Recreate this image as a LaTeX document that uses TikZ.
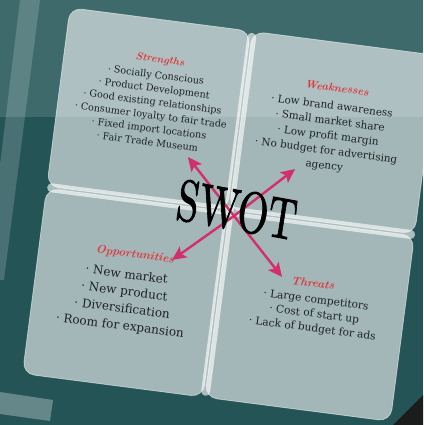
\documentclass[tikz,border=0pt]{standalone}
\usepackage{fontspec}
\newfontfamily\bodyfont{DejaVu Serif}
\newfontfamily\swotfont[FakeBold=1.6]{lmroman10-regular.otf}
\usetikzlibrary{arrows.meta}
\definecolor{bgtop}{HTML}{3E6A6C}
\definecolor{bgbot}{HTML}{255456}
\definecolor{ttl}{HTML}{E0363C}
\definecolor{arr}{HTML}{D32F6B}
\definecolor{txt}{HTML}{1E2222}
\definecolor{darkcorner}{HTML}{1B1C1C}
\newcommand{\bu}{·\ }
\begin{document}
\begin{tikzpicture}[x=1pt,y=1pt,
 card/.style={fill=white, fill opacity=0.58, draw=white, draw opacity=0.55, line width=0.7pt, rounded corners=12pt},
 sepline/.style={draw=white, draw opacity=0.62, line width=9pt, line cap=round},
 ttlnode/.style={text=ttl, inner sep=0pt},
 bodynode/.style={text=txt, align=center, inner sep=0pt},
 arrline/.style={draw=arr, line width=2.4pt, -{Stealth[length=14pt,width=13pt,inset=3pt]}}]
\useasboundingbox (0,0) rectangle (423,425);
\clip (0,0) rectangle (423,425);
% background
\fill[bgbot] (0,0) rectangle (423,425);
\fill[bgtop] (0,308) rectangle (423,425);
\fill[white, opacity=0.17] (20,425) -- (40,425) -- (4,145) -- (-14,145) -- cycle;
\fill[white, opacity=0.3] (0,33) -- (53,25) -- (50,4) -- (0,11) -- cycle;
\fill[darkcorner] (393,0) -- (423,30) -- (423,0) -- cycle;
\begin{scope}[shift={(230,213)}, rotate=-7.4, transform shape]
 % cards
 \path[card] (-185,182) rectangle (-3,2);
 \path[card] (-1,182) rectangle (186,2);
 \path[card] (-185,0) rectangle (-3,-187);
 \path[card] (-1,0) rectangle (186,-187);
 \draw[sepline] (-1,176) -- (-1,-181);
 \draw[sepline] (-180,1) -- (182,1);
 % titles
 \node[ttlnode, font=\fontsize{10.5}{10.5}\selectfont\bfseries\itshape] (st) at (-89,141.7) {Strengths};
 \node[ttlnode, font=\fontsize{11}{11}\selectfont\bfseries\itshape] (wt) at (90,136.8) {Weaknesses};
 \node[ttlnode, font=\fontsize{11.5}{11.5}\selectfont\bfseries\itshape] (ot) at (-88.7,-54.9) {Opportunities};
 \node[ttlnode, font=\fontsize{11.5}{11.5}\selectfont\bfseries\itshape] (tt) at (91.4,-59.7) {Threats};
 % bodies
 \node[bodynode, font=\bodyfont\fontsize{9.6}{13.5}\selectfont] (sb) at (-91,92.8)
   {\bu Socially Conscious\\ \bu Product Development\\ \bu Good existing relationships\\ \bu Consumer loyalty to fair trade\\ \bu Fixed import locations\\ \bu Fair Trade Museum};
 \node[bodynode, font=\bodyfont\fontsize{10.4}{15}\selectfont] (wb) at (87.5,87.7)
   {\bu Low brand awareness\\ \bu Small market share\\ \bu Low profit margin\\ \bu No budget for advertising\\ agency};
 \node[bodynode, font=\bodyfont\fontsize{12}{17.2}\selectfont] (ob) at (-94.5,-101.6)
   {\bu New market\\ \bu New product\\ \bu Diversification\\ \bu Room for expansion};
 \node[bodynode, font=\bodyfont\fontsize{10.6}{14.4}\selectfont] (tb) at (96.7,-91)
   {\bu Large competitors\\ \bu Cost of start up\\ \bu Lack of budget for ads};
 % arrows
 \coordinate (c0) at (4.5,-3.4);
 \coordinate (tnw) at (-48.8,49.1);
 \coordinate (tne) at (59,51);
 \coordinate (tsw) at (-51.3,-55.1);
 \coordinate (tse) at (60,-57.8);
 \draw[arrline] (c0) -- (tnw);
 \draw[arrline] (c0) -- (tne);
 \draw[arrline] (c0) -- (tsw);
 \draw[arrline] (c0) -- (tse);
 % SWOT
 \node[inner sep=0pt, text=black, font=\swotfont\fontsize{58}{58}\selectfont, xscale=0.68, rotate=-2] (swot) at (6.7,2.9) {SWOT};
\end{scope}
\end{tikzpicture}
\end{document}
